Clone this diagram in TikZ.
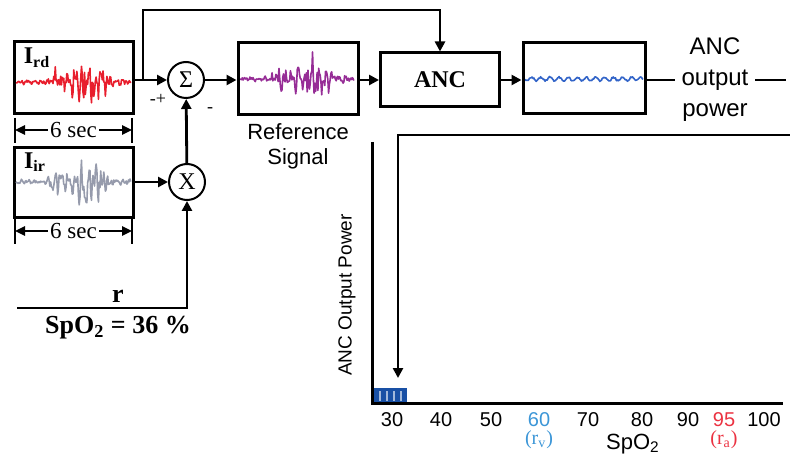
\documentclass[tikz,border=0pt]{standalone}
\usepackage{fontspec}
\setmainfont{Liberation Serif}
\setsansfont{Liberation Sans}
\usetikzlibrary{arrows.meta}

\definecolor{sigred}{RGB}{232,30,45}
\definecolor{siggrey}{RGB}{150,155,172}
\definecolor{sigpurple}{RGB}{150,45,150}
\definecolor{sigblue}{RGB}{50,100,200}
\definecolor{barblue}{RGB}{25,80,165}
\definecolor{tickblue}{RGB}{60,150,215}
\definecolor{tickred}{RGB}{235,50,65}

\tikzset{
  sigbox/.style={draw, line width=1.5pt, minimum width=59.5pt, minimum height=36pt, inner sep=0pt},
  junc/.style={circle, draw, line width=1pt, minimum size=18pt, inner sep=0pt, font=\fontsize{12}{12}\selectfont},
  conn/.style={line width=1.4pt},
  arr/.style={conn, -{Triangle[length=5pt,width=5pt]}},
  dimline/.style={line width=1.2pt, {Triangle[length=5pt,width=4.5pt]}-{Triangle[length=5pt,width=4.5pt]}},
  sig/.style={line width=0.8pt, line join=round},
  lbl/.style={font=\sffamily\fontsize{11}{12.5}\selectfont, align=center},
  tick/.style={font=\sffamily\fontsize{10}{10}\selectfont},
}

\begin{document}
\begin{tikzpicture}[x=0.5pt, y=-0.5pt,
    declare function={env(\t)=3+24*exp(-((\t-0.62)/0.17)^2)+13*exp(-((\t-0.34)/0.05)^2);
                      osc(\t)=0.6*sin(\t*360*17)+0.4*sin(\t*360*31+40);}]
  \useasboundingbox (0,0) rectangle (790,459);

  % input blocks
  \node[sigbox] (ird) at (73.5,78) {};
  \node[sigbox, minimum height=35pt] (iir) at (73.5,182.5) {};
  \node[font=\bfseries\fontsize{12}{12}\selectfont] (lrd) at (37,58) {I\textsubscript{rd}};
  \node[font=\bfseries\fontsize{12}{12}\selectfont] (lir) at (35,162) {I\textsubscript{ir}};

  % signals
  \pgfmathsetseed{11}
  \draw[sig, sigred] plot[domain=0:1, samples=150] ({16+115*\x}, {80+env(\x)*(0.6*osc(\x)+0.5*rand)+2});
  \pgfmathsetseed{23}
  \draw[sig, siggrey] plot[domain=0:1, samples=150] ({16+115*\x}, {182+env(\x)*(0.6*osc(\x)+0.5*rand)});
  \pgfmathsetseed{5}
  \draw[sig, sigpurple] plot[domain=0:1, samples=150] ({240+114*\x}, {79+env(\x)*(0.6*osc(\x)+0.5*rand)});
  \pgfmathsetseed{3}
  \draw[sig, sigblue] plot[domain=0:1, samples=160] ({525+118*\x}, {79+1.8*sin(\x*360*13)+0.8*rand});

  % 6 sec spans
  \foreach \n/\y in {1/130, 2/231} {
    \coordinate (dl\n) at (15,\y);
    \coordinate (dr\n) at (132,\y);
    \draw[line width=1pt] (dl\n) ++(0,-12) -- ++(0,25);
    \draw[line width=1pt] (dr\n) ++(0,-12) -- ++(0,25);
    \draw[dimline] (dl\n) -- (dr\n)
      node[midway, fill=white, inner sep=1pt, font=\fontsize{11.5}{11.5}\selectfont] {6 sec};
  }

  % junctions
  \node[junc] (sum) at (186,80) {Σ};
  \node[junc] (mul) at (187,182) {X};
  \node[font=\fontsize{9}{9}\selectfont] (plus) at (158,99) {-+};
  \node[font=\fontsize{9}{9}\selectfont] (minus) at (210,110) {-};

  % processing chain
  \node[sigbox, minimum width=60pt] (ref) at (298,79) {};
  \node[lbl] (reflbl) at (298,146) {Reference\\Signal};
  \node[sigbox, minimum height=27pt, font=\bfseries\fontsize{12}{12}\selectfont] (anc) at (440,80) {ANC};
  \node[sigbox, minimum width=61pt, minimum height=35.5pt] (out) at (584,78.5) {};
  \node[lbl, font=\sffamily\fontsize{12}{15.5}\selectfont] (pow) at (715,80) {ANC\\output\\power};

  % connectors
  \coordinate (tap) at (143,80);
  \coordinate (fbtop) at (143,10);
  \draw[arr] (ird.east |- sum) -- (sum.west);
  \draw[arr] (tap) -- (fbtop) -| (anc.north);
  \draw[arr] (iir.east |- mul) -- (mul.west);
  \draw[arr] (mul) -- (sum);
  \draw[arr] (sum) -- (ref.west |- sum);
  \draw[arr] (ref.east |- anc) -- (anc.west);
  \draw[arr] (anc.east) -- (out.west |- anc.east);
  \draw[conn] (out.east |- pow) -- (pow.west);
  \coordinate (pend) at (786,80);
  \draw[conn] (pow.east) -- (pend);

  % r input
  \coordinate (rin) at (17,308);
  \draw[arr] (rin) -| (mul.south);
  \node[font=\bfseries\fontsize{13}{13}\selectfont] (rlbl) at (118,296) {r};
  \node[font=\bfseries\fontsize{13}{13}\selectfont] (spo) at (118,328) {SpO\textsubscript{2} = 36 \%};

  % plot
  \coordinate (ytop) at (372,142);
  \coordinate (orig) at (372,403);
  \coordinate (xend) at (783,403);
  \draw[conn, line width=1.5pt] (ytop) -- (orig) -- (xend);
  \node[tick, font=\sffamily\fontsize{9.5}{10}\selectfont, rotate=90] (ylbl) at (347,295) {ANC Output Power};
  \fill[barblue] (374,388) rectangle (407,402);
  \foreach \x in {380,387,394,401}
    \draw[white!60!barblue, line width=0.6pt] (\x,391) -- (\x,401);
  \coordinate (bar) at (398,378);
  \coordinate (frr) at (790,135);
  \coordinate (frl) at (398,135);
  \draw[arr] (frr) -- (frl) -- (bar);

  \foreach \v/\x in {30/392, 40/441, 50/491, 70/588, 80/642, 90/688, 100/764}
    \node[tick] (t\v) at (\x,420) {\v};
  \node[tick, text=tickblue] (t60) at (539,420) {60};
  \node[tick, text=tickred] (t95) at (724,420) {95};
  \node[text=tickblue, font=\fontsize{10}{10}\selectfont] (rv) at (539,440) {(r\textsubscript{v})};
  \node[text=tickred, font=\fontsize{10}{10}\selectfont] (ra) at (724,440) {(r\textsubscript{a})};
  \node[tick, font=\sffamily\fontsize{11}{11}\selectfont] (xlbl) at (633,444) {SpO\textsubscript{2}};
\end{tikzpicture}
\end{document}
